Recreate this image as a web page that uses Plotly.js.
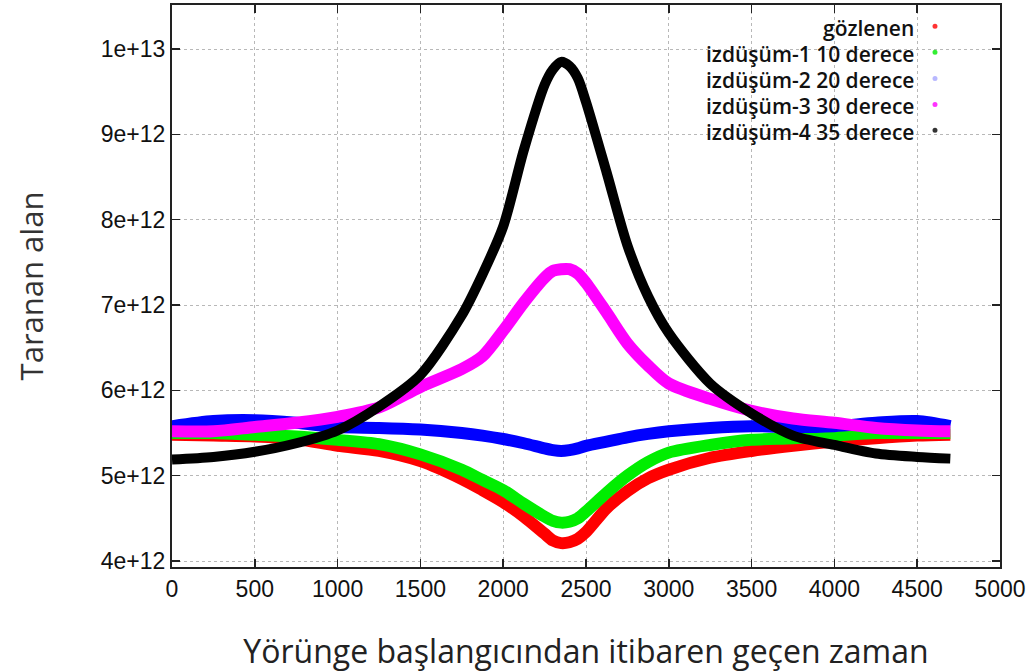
<!DOCTYPE html>
<html>
<head>
<meta charset="utf-8">
<script src="https://cdn.plot.ly/plotly-3.0.1.min.js"></script>
<style>html,body{margin:0;padding:0;background:#fff;}#chart{width:1032px;height:672px;}</style>
</head>
<body>
<div id="chart"></div>
<script>
const timeValues = [0, 250, 500, 750, 1000, 1250, 1500, 1750, 1875, 2000, 2125, 2250, 2300, 2350, 2400, 2450, 2500, 2625, 2750, 2875, 3000, 3250, 3500, 3750, 4000, 4250, 4500, 4700];

// Scanned area, in units of 1e12
const gozlenen = [5.48, 5.47, 5.46, 5.43, 5.35, 5.29, 5.17, 4.96, 4.83, 4.69, 4.52, 4.32, 4.24, 4.21, 4.22, 4.26, 4.34, 4.62, 4.82, 4.97, 5.07, 5.21, 5.29, 5.35, 5.40, 5.44, 5.47, 5.48];
const izdusum1 = [5.50, 5.50, 5.48, 5.46, 5.42, 5.37, 5.25, 5.07, 4.95, 4.83, 4.67, 4.52, 4.47, 4.45, 4.46, 4.50, 4.58, 4.80, 5.00, 5.16, 5.27, 5.36, 5.42, 5.44, 5.47, 5.50, 5.50, 5.50];
const izdusum2 = [5.58, 5.64, 5.65, 5.62, 5.57, 5.56, 5.54, 5.50, 5.47, 5.43, 5.38, 5.32, 5.30, 5.29, 5.30, 5.32, 5.35, 5.40, 5.45, 5.49, 5.52, 5.56, 5.58, 5.57, 5.58, 5.62, 5.64, 5.58];
const izdusum3 = [5.52, 5.52, 5.57, 5.62, 5.69, 5.80, 6.04, 6.25, 6.40, 6.70, 7.03, 7.32, 7.40, 7.42, 7.42, 7.37, 7.26, 6.91, 6.55, 6.29, 6.08, 5.90, 5.76, 5.67, 5.62, 5.56, 5.53, 5.52];
const izdusum4 = [5.19, 5.22, 5.28, 5.38, 5.53, 5.81, 6.18, 6.88, 7.36, 7.92, 8.82, 9.58, 9.76, 9.85, 9.80, 9.66, 9.38, 8.55, 7.70, 7.10, 6.67, 6.08, 5.73, 5.47, 5.36, 5.26, 5.22, 5.20];

const seriesNames = ["gözlenen", "izdüşüm-1 10 derece", "izdüşüm-2 20 derece", "izdüşüm-3 30 derece", "izdüşüm-4 35 derece"];
const seriesData = [gozlenen, izdusum1, izdusum2, izdusum3, izdusum4];
const seriesColors = ["#ff0000", "#00ee00", "#0000ff", "#ff00ff", "#000000"];
const legendDotColors = ["#ff3333", "#33ee33", "#b8b8ff", "#ff33ff", "#333333"];

const xTickValues = [0, 500, 1000, 1500, 2000, 2500, 3000, 3500, 4000, 4500, 5000];
const yTickValues = [4e12, 5e12, 6e12, 7e12, 8e12, 9e12, 1e13];
const yTickLabels = ["4e+12", "5e+12", "6e+12", "7e+12", "8e+12", "9e+12", "1e+13"];

const scale = 1e12;
const traces = seriesData.map((vals, i) => ({
  type: "scatter",
  mode: "lines",
  name: seriesNames[i],
  x: timeValues,
  y: vals.map(v => v * scale),
  line: {color: seriesColors[i], width: i === 4 ? 10 : 12, shape: "spline", smoothing: 0.8},
  showlegend: false,
  hoverinfo: "x+y+name"
}));

// Legend drawn as right-aligned text with the marker on the right (as in the source)
const rowY = [0.959, 0.913, 0.866, 0.820, 0.774];
const annotations = seriesNames.map((n, i) => ({
  xref: "paper", yref: "paper", x: 0.899, y: rowY[i],
  xanchor: "right", yanchor: "middle", showarrow: false,
  text: n, font: {family: "Open Sans, Noto Sans, sans-serif", size: 21, color: "#111", weight: 600}
}));
const shapes = seriesNames.map((n, i) => ({
  type: "circle", xref: "paper", yref: "paper",
  xsizemode: "pixel", ysizemode: "pixel",
  xanchor: 0.9215, yanchor: rowY[i] + 0.003,
  x0: -2.5, x1: 2.5, y0: -2.5, y1: 2.5,
  fillcolor: legendDotColors[i], line: {width: 0}
}));

const pad = "\u00a0\u00a0\u00a0\u00a0\u00a0\u00a0\u00a0";
const layout = {
  width: 1032, height: 672,
  margin: {l: 172, r: 32, t: 5, b: 105},
  paper_bgcolor: "#ffffff", plot_bgcolor: "#ffffff",
  showlegend: false,
  font: {family: "Liberation Sans, Arial, sans-serif", color: "#111"},
  xaxis: {
    range: [0, 5000], tickvals: xTickValues, ticktext: xTickValues.map(String),
    ticks: "inside", ticklen: 8, tickwidth: 1.5, tickcolor: "#222",
    showline: true, linewidth: 2, linecolor: "#222", mirror: "ticks",
    showgrid: true, gridcolor: "#b8b8b8", griddash: "dot", gridwidth: 1,
    zeroline: false,
    tickfont: {family: "Liberation Sans, Arial, sans-serif", size: 23, color: "#111"},
    title: {text: pad + "Yörünge başlangıcından itibaren geçen zaman", font: {family: "Open Sans, Noto Sans, sans-serif", size: 32, color: "#222"}, standoff: 40}
  },
  yaxis: {
    range: [3.93e12, 1.0516e13], tickvals: yTickValues, ticktext: yTickLabels,
    ticks: "inside", ticklen: 8, tickwidth: 1.5, tickcolor: "#222",
    showline: true, linewidth: 2, linecolor: "#222", mirror: "ticks",
    showgrid: true, gridcolor: "#b8b8b8", griddash: "dot", gridwidth: 1,
    zeroline: false,
    tickfont: {family: "Liberation Sans, Arial, sans-serif", size: 23, color: "#111"},
    title: {text: "Taranan alan", font: {family: "Open Sans, Noto Sans, sans-serif", size: 31, color: "#333"}, standoff: 48}
  },
  annotations: annotations,
  shapes: shapes
};

Plotly.newPlot("chart", traces, layout, {displayModeBar: false, staticPlot: true});
</script>
</body>
</html>
